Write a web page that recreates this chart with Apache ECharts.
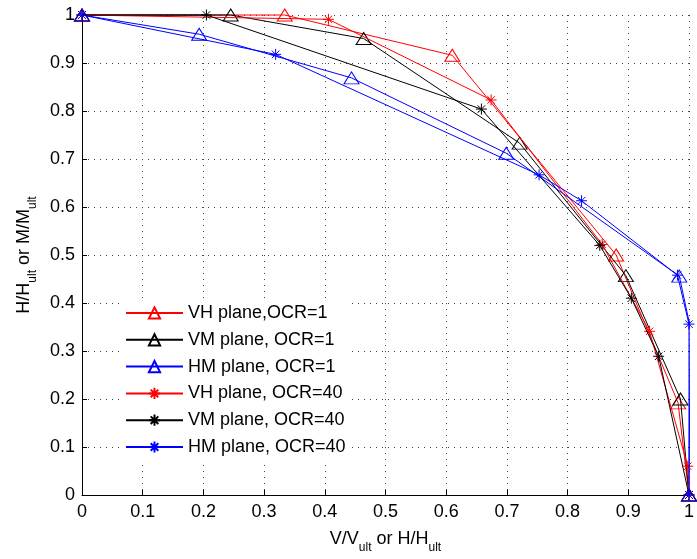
<!DOCTYPE html>
<html>
<head>
<meta charset="utf-8">
<script src="https://cdn.jsdelivr.net/npm/echarts@6/dist/echarts.min.js"></script>
<style>
html,body{margin:0;padding:0;background:#fff;}
#c{width:697px;height:559px;}
</style>
</head>
<body>
<div id="c"></div>
<script>
// ---- data ----
var seriesNames = ['VH plane,OCR=1', 'VM plane, OCR=1', 'HM plane, OCR=1', 'VH plane, OCR=40', 'VM plane, OCR=40', 'HM plane, OCR=40'];
var vhOcr1 = [[0, 1], [0.334, 1.0], [0.61, 0.916], [0.88, 0.50], [0.982, 0.192], [1, 0]];
var vmOcr1 = [[0, 1], [0.245, 1.0], [0.464, 0.951], [0.721, 0.733], [0.896, 0.457], [0.986, 0.2], [1, 0]];
var hmOcr1 = [[0, 1], [0.193, 0.960], [0.444, 0.869], [0.699, 0.712], [0.984, 0.456], [1.002, 0.35], [1, 0]];
var vhOcr40 = [[0, 1], [0.406, 0.991], [0.674, 0.823], [0.857, 0.522], [0.935, 0.341], [0.998, 0.06], [1, 0]];
var vmOcr40 = [[0, 1], [0.205, 1.0], [0.658, 0.804], [0.853, 0.520], [0.905, 0.41], [0.95, 0.289], [1, 0]];
var hmOcr40 = [[0, 1], [0.319, 0.918], [0.753, 0.667], [0.823, 0.613], [0.981, 0.458], [1.0, 0.356], [1, 0]];
var hmOcr1NoMarker = [5];
var seriesColors = ['#ff0000', '#000000', '#0000ff', '#ff0000', '#000000', '#0000ff'];
var xTicks = [0, 0.1, 0.2, 0.3, 0.4, 0.5, 0.6, 0.7, 0.8, 0.9, 1];
var yTicks = [0, 0.1, 0.2, 0.3, 0.4, 0.5, 0.6, 0.7, 0.8, 0.9, 1];

var FONT = 'Liberation Sans';
var STAR = 'path://M5,0L5,10M0,5L10,5M1.6,1.6L8.4,8.4M1.6,8.4L8.4,1.6';

function mkSeries(idx, pts, marker, noMarkerIdx) {
  var isTri = marker === 'tri';
  var data = pts.map(function (p, i) {
    if (noMarkerIdx && noMarkerIdx.indexOf(i) >= 0) {
      return {value: p, symbol: 'none'};
    }
    return p;
  });
  return {
    name: seriesNames[idx],
    type: 'line',
    data: data,
    clip: false,
    symbol: isTri ? 'triangle' : STAR,
    symbolSize: isTri ? [15, 12] : 11,
    symbolKeepAspect: false,
    color: seriesColors[idx],
    lineStyle: {color: seriesColors[idx], width: 1},
    itemStyle: {color: 'rgba(0,0,0,0)', borderColor: seriesColors[idx], borderWidth: 1},
    emphasis: {disabled: true},
    z: 2 + idx
  };
}

var gridStyle = {show: true, lineStyle: {color: '#444', width: 1, type: [1, 5]}};

var option = {
  animation: false,
  backgroundColor: '#fff',
  grid: {left: 82, top: 15, width: 611, height: 483},
  xAxis: {
    type: 'value', min: 0, max: 1, interval: 0.1,
    axisLine: {show: true, lineStyle: {color: '#000', width: 1}},
    axisTick: {show: true, inside: true, length: 5, lineStyle: {color: '#000'}},
    axisLabel: {color: '#000', fontFamily: FONT, fontSize: 18, margin: 8,
      formatter: function (v) { return String(Math.round(v * 10) / 10); }},
    splitLine: gridStyle,
    name: '{n|V/V}{s|ult}{n| or H/H}{s|ult}',
    nameLocation: 'middle', nameGap: 35,
    nameTextStyle: {
      rich: {
        n: {fontFamily: FONT, fontSize: 18, color: '#000', lineHeight: 20, verticalAlign: 'top'},
        s: {fontFamily: FONT, fontSize: 12, color: '#000', lineHeight: 12, verticalAlign: 'top', padding: [12, 0, 0, 0]}
      }
    }
  },
  yAxis: {
    type: 'value', min: 0, max: 1, interval: 0.1,
    axisLine: {show: true, lineStyle: {color: '#000', width: 1}},
    axisTick: {show: true, inside: true, length: 5, lineStyle: {color: '#000'}},
    axisLabel: {color: '#000', fontFamily: FONT, fontSize: 18, margin: 7,
      formatter: function (v) { return String(Math.round(v * 10) / 10); }},
    splitLine: gridStyle,
    name: '{n|H/H}{s|ult}{n| or M/M}{s|ult}',
    nameLocation: 'middle', nameGap: 39,
    nameTextStyle: {
      rich: {
        n: {fontFamily: FONT, fontSize: 18, color: '#000', lineHeight: 20, verticalAlign: 'top'},
        s: {fontFamily: FONT, fontSize: 12, color: '#000', lineHeight: 12, verticalAlign: 'top', padding: [12, 0, 0, 0]}
      }
    }
  },
  legend: {
    orient: 'vertical',
    left: 123, top: 301,
    padding: [2, 6, 4, 2],
    backgroundColor: '#fff',
    itemWidth: 57, itemHeight: 14,
    itemGap: 6.8,
    textStyle: {fontFamily: FONT, fontSize: 18, color: '#000', lineHeight: 20},
    data: seriesNames
  },
  series: [
    mkSeries(0, vhOcr1, 'tri'),
    mkSeries(1, vmOcr1, 'tri'),
    mkSeries(2, hmOcr1, 'tri', hmOcr1NoMarker),
    mkSeries(3, vhOcr40, 'star'),
    mkSeries(4, vmOcr40, 'star'),
    mkSeries(5, hmOcr40, 'star')
  ]
};

var chart = echarts.init(document.getElementById('c'), null, {renderer: 'canvas'});
chart.setOption(option);
</script>
</body>
</html>
